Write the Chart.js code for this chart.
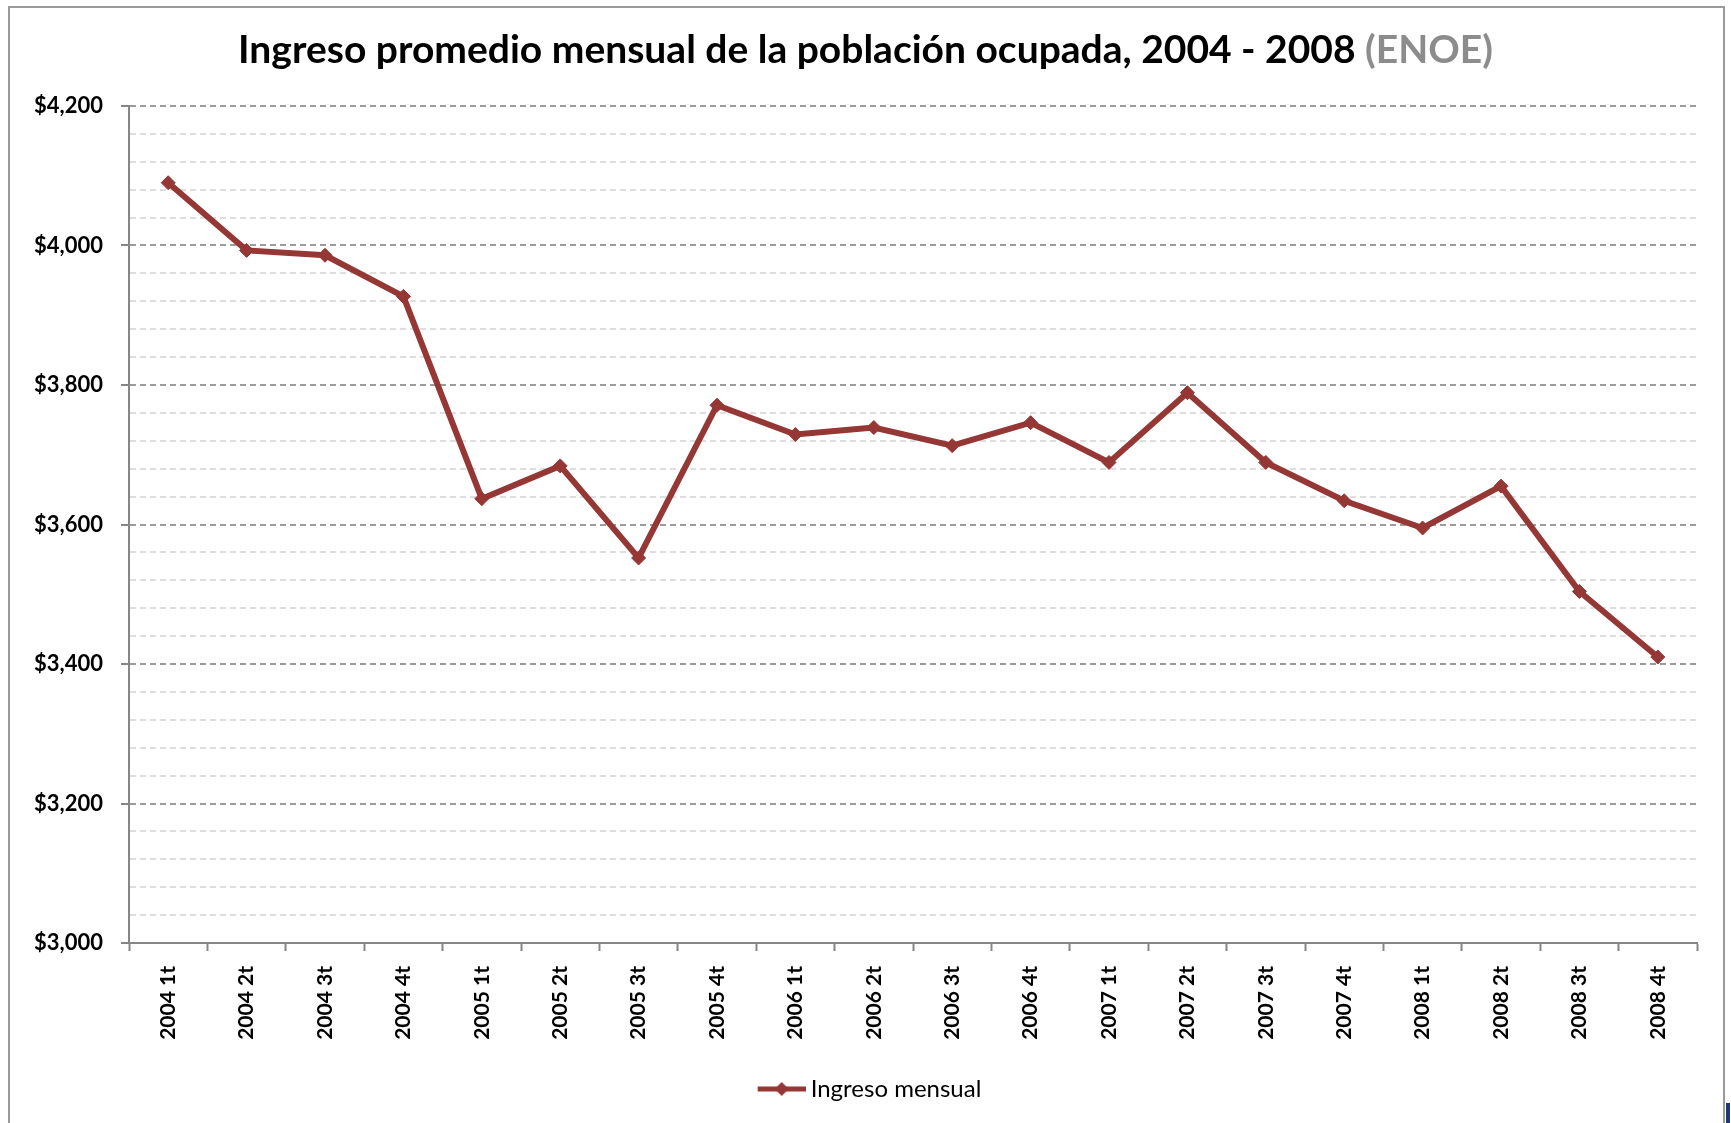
<!DOCTYPE html>
<html>
<head>
<meta charset="utf-8">
<title>Ingreso promedio mensual</title>
<script src="https://cdn.jsdelivr.net/npm/chart.js@4.4.0/dist/chart.umd.min.js"></script>
<style>
  html, body { margin: 0; padding: 0; background: #fff; }
  body { width: 1731px; height: 1123px; position: relative; overflow: hidden; font-family: Lato, "Open Sans", sans-serif; }
  #frame { position: absolute; left: 8px; top: 6px; width: 1717px; height: 1160px; border: 2px solid #9a9a9a; box-sizing: border-box; }
  #title { position: absolute; left: 0; top: 25px; width: 1731px; text-align: center; font-weight: bold; font-size: 39px; color: #000; white-space: nowrap; }
  #title span { color: #8c8c8c; }
  #wrap { position: absolute; left: 0; top: 0; width: 1731px; height: 1123px; }
  #mark { position: absolute; left: 1726px; top: 1103px; width: 4px; height: 20px; background: #1f3a70; }
</style>
</head>
<body>
<div id="frame"></div>
<div id="wrap"><canvas id="income-chart"></canvas></div>
<div id="title">Ingreso promedio mensual de la población ocupada, 2004 - 2008 <span>(ENOE)</span></div>
<div id="mark"></div>
<script>
var categorias = [
  '2004 1t', '2004 2t', '2004 3t', '2004 4t',
  '2005 1t', '2005 2t', '2005 3t', '2005 4t',
  '2006 1t', '2006 2t', '2006 3t', '2006 4t',
  '2007 1t', '2007 2t', '2007 3t', '2007 4t',
  '2008 1t', '2008 2t', '2008 3t', '2008 4t'
];
var ingresoMensual = [
  4090, 3993, 3986, 3927,
  3637, 3684, 3552, 3771,
  3729, 3739, 3713, 3746,
  3689, 3789, 3689, 3634,
  3595, 3655, 3504, 3410
];
var ejeMin = 3000;
var ejeMax = 4200;
var pasoMayor = 200;
var pasoMenor = 40;

var lineColor = '#953735';

// legend marker: short line with a diamond, drawn at the right end of a wider image
// (the blank left part nudges the legend item to the right like in the original)
var legendMark = document.createElement('canvas');
legendMark.width = 97;
legendMark.height = 16;
var lm = legendMark.getContext('2d');
lm.strokeStyle = lineColor;
lm.lineWidth = 5;
lm.beginPath(); lm.moveTo(49, 8); lm.lineTo(97, 8); lm.stroke();
lm.fillStyle = lineColor;
lm.beginPath(); lm.moveTo(73, 1); lm.lineTo(80, 8); lm.lineTo(73, 15); lm.lineTo(66, 8); lm.closePath(); lm.fill();

function esMayor(v) {
  return Math.round(v) % pasoMayor === 0;
}

var incomeCanvas = document.getElementById('income-chart').getContext('2d');
var incomeChart = new Chart(incomeCanvas, {
  type: 'line',
  data: {
    labels: categorias,
    datasets: [{
      label: 'Ingreso mensual',
      data: ingresoMensual,
      borderColor: lineColor,
      backgroundColor: lineColor,
      borderWidth: 6,
      tension: 0,
      pointStyle: 'rectRot',
      pointRadius: 7,
      pointHoverRadius: 7,
      pointBackgroundColor: lineColor,
      pointBorderColor: lineColor,
      pointBorderWidth: 1
    }]
  },
  options: {
    responsive: true,
    maintainAspectRatio: false,
    animation: false,
    layout: { padding: { top: 106, right: 34, bottom: 12, left: 0 } },
    plugins: {
      title: { display: false },
      tooltip: { enabled: false },
      legend: {
        position: 'bottom',
        labels: {
          usePointStyle: true,
          pointStyleWidth: 83,
          color: '#000',
          padding: 10,
          font: { family: 'Lato', size: 24 },
          generateLabels: function(chart) {
            return [{
              text: chart.data.datasets[0].label,
              pointStyle: legendMark,
              fillStyle: lineColor,
              strokeStyle: lineColor,
              lineWidth: 0,
              fontColor: '#000',
              datasetIndex: 0,
              hidden: false
            }];
          }
        }
      }
    },
    scales: {
      x: {
        offset: true,
        grid: {
          offset: true,
          drawOnChartArea: false,
          drawTicks: true,
          tickLength: 8,
          tickColor: '#868686',
          tickWidth: 2
        },
        border: { display: true, color: '#868686', width: 2 },
        ticks: {
          autoSkip: false,
          minRotation: 90,
          maxRotation: 90,
          padding: 15,
          color: '#000',
          font: { family: 'Lato', size: 21, weight: 'bold' }
        },
        afterFit: function(scale) { scale.height = 124; }
      },
      y: {
        min: ejeMin,
        max: ejeMax,
        grid: {
          color: function(ctx) {
            return ctx.tick && esMayor(ctx.tick.value) ? '#9c9c9c' : '#dedede';
          },
          lineWidth: 2,
          drawTicks: true,
          tickLength: 8,
          tickWidth: 2,
          tickColor: function(ctx) {
            return ctx.tick && esMayor(ctx.tick.value) ? '#868686' : 'rgba(0,0,0,0)';
          }
        },
        border: { display: true, color: '#868686', width: 2, dash: [6, 4] },
        ticks: {
          stepSize: pasoMenor,
          autoSkip: false,
          maxTicksLimit: 100,
          padding: 18,
          color: '#000',
          font: { family: 'Lato', size: 22, weight: 'bold', lineHeight: 1 },
          callback: function(v) {
            return esMayor(v) ? '$' + Math.round(v).toLocaleString('en-US') : '';
          }
        },
        afterFit: function(scale) { scale.width = 129; }
      }
    }
  }
});
</script>
</body>
</html>
